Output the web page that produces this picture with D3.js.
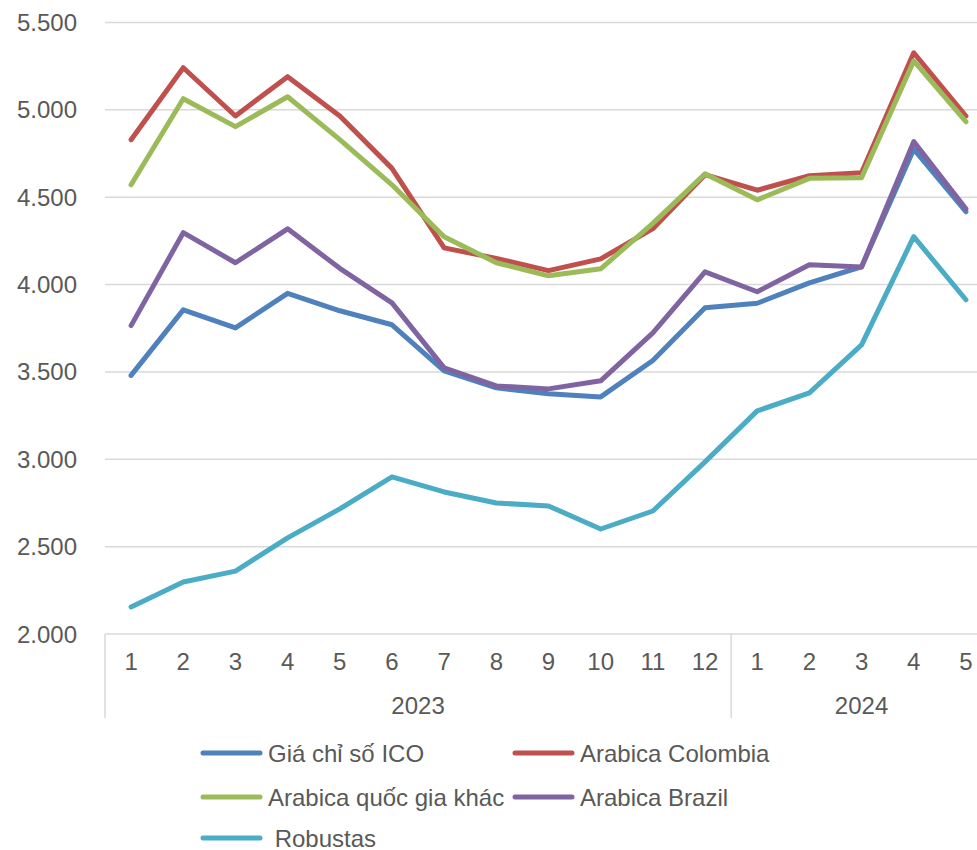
<!DOCTYPE html>
<html>
<head>
<meta charset="utf-8">
<script src="https://cdn.jsdelivr.net/npm/d3@7"></script>
<style>
  body { margin: 0; background: #fff; }
  svg text { font-family: "Liberation Sans", Arial, sans-serif; fill: #595959; font-size: 24px; }
</style>
</head>
<body>
<div id="chart"></div>
<script>
// months (2023: 1-12, 2024: 1-5)
var months = ["1","2","3","4","5","6","7","8","9","10","11","12","1","2","3","4","5"];
var years = [{ label: "2023", count: 12 }, { label: "2024", count: 5 }];
var yTicks = [2000, 2500, 3000, 3500, 4000, 4500, 5000, 5500];

var ico      = [3480, 3855, 3752, 3950, 3850, 3770, 3506, 3409, 3375, 3357, 3565, 3867, 3893, 4010, 4102, 4775, 4417];
var colombia = [4829, 5241, 4965, 5190, 4965, 4665, 4210, 4150, 4080, 4147, 4320, 4629, 4540, 4623, 4640, 5327, 4965];
var khac     = [4571, 5064, 4904, 5075, 4830, 4571, 4274, 4125, 4050, 4090, 4350, 4634, 4485, 4608, 4611, 5280, 4932];
var brazil   = [3765, 4297, 4125, 4319, 4093, 3895, 3523, 3420, 3403, 3449, 3724, 4073, 3959, 4113, 4100, 4818, 4434];
var robustas = [2155, 2298, 2360, 2550, 2716, 2899, 2813, 2750, 2733, 2601, 2704, 2985, 3277, 3380, 3655, 4274, 3913];

var series = [
  { name: "Giá chỉ số ICO", values: ico, color: "#4F81BD" },
  { name: "Arabica Colombia", values: colombia, color: "#C0504D" },
  { name: "Arabica quốc gia khác", values: khac, color: "#9BBB59" },
  { name: "Arabica Brazil", values: brazil, color: "#8064A2" },
  { name: " Robustas", values: robustas, color: "#4BACC6" }
];

var width = 977, height = 850;
var plotLeft = 105, plotRight = 992, plotTop = 22.5, plotBottom = 634;

var svg = d3.select("#chart").append("svg")
  .attr("width", width)
  .attr("height", height);

var xScale = d3.scaleBand()
  .domain(d3.range(months.length))
  .range([plotLeft, plotRight]);

var yScale = d3.scaleLinear()
  .domain([2000, 5500])
  .range([plotBottom, plotTop]);

var fmt = function(v){ return d3.format(",")(v).replace(/,/g, "."); };

// gridlines
svg.append("g").selectAll("line")
  .data(yTicks)
  .enter().append("line")
  .attr("x1", plotLeft)
  .attr("x2", width)
  .attr("y1", function(d){ return yScale(d); })
  .attr("y2", function(d){ return yScale(d); })
  .attr("stroke", "#d9d9d9")
  .attr("stroke-width", 1.5);

// y labels
svg.append("g").selectAll("text")
  .data(yTicks)
  .enter().append("text")
  .attr("x", 77)
  .attr("y", function(d){ return yScale(d) + 8.5; })
  .attr("text-anchor", "end")
  .text(fmt);

// month labels
svg.append("g").selectAll("text")
  .data(months)
  .enter().append("text")
  .attr("x", function(d, i){ return xScale(i) + xScale.bandwidth() / 2; })
  .attr("y", 670)
  .attr("text-anchor", "middle")
  .text(function(d){ return d; });

// year groups + separators
var start = 0;
var sepIdx = [0];
years.forEach(function(y){
  var x0 = xScale(start), x1 = xScale(start) + xScale.bandwidth() * y.count;
  svg.append("text")
    .attr("x", (x0 + x1) / 2)
    .attr("y", 714)
    .attr("text-anchor", "middle")
    .text(y.label);
  start += y.count;
  sepIdx.push(start);
});
svg.append("g").selectAll("line")
  .data(sepIdx.slice(0, -1))
  .enter().append("line")
  .attr("x1", function(d){ return xScale(d); })
  .attr("x2", function(d){ return xScale(d); })
  .attr("y1", plotBottom)
  .attr("y2", 718)
  .attr("stroke", "#d9d9d9")
  .attr("stroke-width", 1.5);

// lines
var line = d3.line()
  .x(function(d, i){ return xScale(i) + xScale.bandwidth() / 2; })
  .y(function(d){ return yScale(d); });

svg.append("g").selectAll("path")
  .data(series)
  .enter().append("path")
  .attr("d", function(s){ return line(s.values); })
  .attr("fill", "none")
  .attr("stroke", function(s){ return s.color; })
  .attr("stroke-width", 5)
  .attr("stroke-linejoin", "round")
  .attr("stroke-linecap", "round");

// legend
var legPos = [[203, 753], [515, 753], [203, 797], [515, 797], [203, 838]];
var leg = svg.append("g").selectAll("g")
  .data(series)
  .enter().append("g")
  .attr("transform", function(d, i){ return "translate(" + legPos[i][0] + "," + legPos[i][1] + ")"; });
leg.append("line")
  .attr("x1", 0).attr("x2", 57)
  .attr("stroke", function(d){ return d.color; })
  .attr("stroke-width", 5)
  .attr("stroke-linecap", "round");
leg.append("text")
  .attr("x", 65)
  .attr("y", 8.5)
  .style("white-space", "pre")
  .text(function(d){ return d.name; });
</script>
</body>
</html>
